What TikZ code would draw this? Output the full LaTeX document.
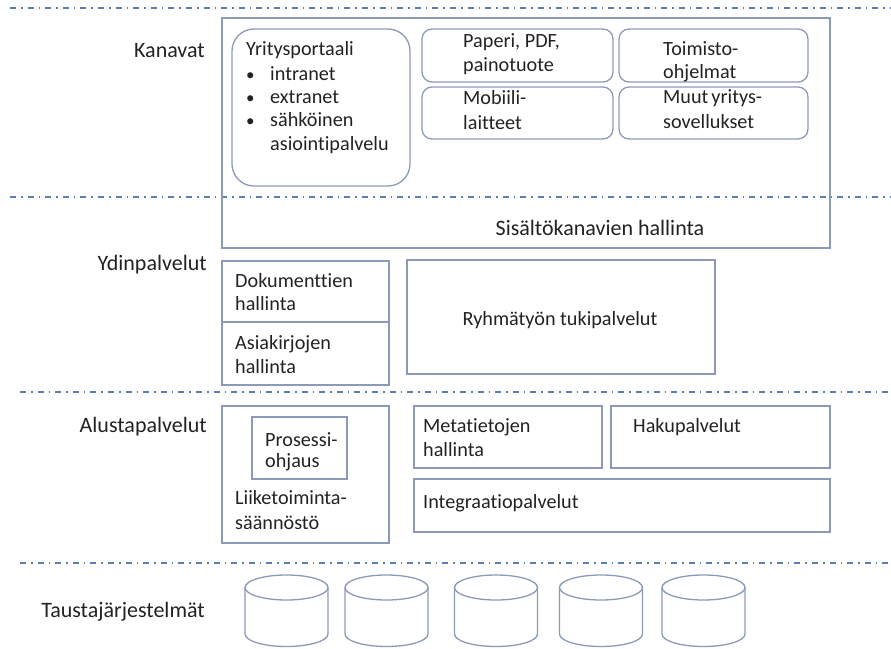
\documentclass[tikz,border=0pt]{standalone}
\usepackage{fontspec}
\setmainfont{Carlito}[Ligatures=NoCommon]
\definecolor{boxline}{RGB}{140,154,184}
\definecolor{layerline}{RGB}{92,126,180}
\definecolor{inktext}{RGB}{34,34,34}
\begin{document}
\begin{tikzpicture}[x=1pt,y=-1pt,
  font=\fontsize{20.2}{24}\selectfont,
  box/.style={draw=boxline,line width=1.3pt},
  roundbox/.style={box,rounded corners=10pt},
  portalbox/.style={box,rounded corners=22pt},
  layer/.style={draw=layerline,line width=1.6pt,dash pattern=on 6pt off 5pt on 1.6pt off 5pt},
  txt/.style={inner sep=0pt,text=inktext,anchor=base west},
  lbl/.style={inner sep=0pt,text=inktext,anchor=base east,font=\fontsize{22}{24}\selectfont},
  ctr/.style={inner sep=0pt,text=inktext,anchor=base},
  dot/.style={inner sep=0pt,text=inktext,anchor=base west,font=\fontsize{17}{24}\selectfont},
  db/.style={draw=boxline,line width=1.3pt}]
\useasboundingbox (0,0) rectangle (891,648);

% layer separators
\draw[layer] (10,8) -- (891,8);
\draw[layer] (10,197) -- (891,197);
\draw[layer] (20,392) -- (891,392);
\draw[layer] (20,563) -- (891,563);

% layer titles
\node[lbl] (kanavat) at (205,57) {Kanavat};
\node[lbl] (ydin) at (207,270) {Ydinpalvelut};
\node[lbl] (alusta) at (207,432) {Alustapalvelut};
\node[lbl] (tausta) at (205,617) {Taustajärjestelmät};

% channels
\draw[box] (222,18) rectangle (830,248);
\draw[portalbox] (232,29) rectangle (410,186);
\node[txt] (portal) at (246,55) {Yritysportaali};
\node[dot] (b1) at (246,80) {•};
\node[txt] (i1) at (270,80) {intranet};
\node[dot] (b2) at (246,103) {•};
\node[txt] (i2) at (270,103) {extranet};
\node[dot] (b3) at (246,126) {•};
\node[txt] (i3) at (270,126) {sähköinen};
\node[txt] (i3b) at (270,150) {asiointipalvelu};

\draw[roundbox] (422,29) rectangle (613,82);
\node[txt] (pap1) at (463,47) {Paperi, PDF,};
\node[txt] (pap2) at (463,71) {painotuote};
\draw[roundbox] (619,29) rectangle (808,82);
\node[txt] (toi1) at (663,55) {Toimisto-};
\node[txt] (toi2) at (663,78) {ohjelmat};
\draw[roundbox] (422,87) rectangle (613,139);
\node[txt] (mob1) at (463,104) {Mobiili-};
\node[txt] (mob2) at (463,129) {laitteet};
\draw[roundbox] (619,87) rectangle (808,139);
\node[txt] (muu1) at (663,103) {Muut\hspace{0.15em}yritys-};
\node[txt] (muu2) at (663,128) {sovellukset};
\node[ctr,font=\fontsize{22}{24}\selectfont] (sisalto) at (600,235) {Sisältökanavien hallinta};

% core services
\draw[box] (222,261) rectangle (389,385);
\draw[box] (222,322) -- (389,322);
\node[txt] (dok1) at (235,287) {Dokumenttien};
\node[txt] (dok2) at (235,310) {hallinta};
\node[txt] (asi1) at (235,349) {Asiakirjojen};
\node[txt] (asi2) at (235,373) {hallinta};
\draw[box] (407,260) rectangle (715,374);
\node[ctr] (ryhma) at (560,325) {Ryhmätyön tukipalvelut};

% platform services
\draw[box] (222,406) rectangle (389,543);
\draw[box] (252,417) rectangle (347,479);
\node[txt] (pro1) at (265,446) {Prosessi-};
\node[txt] (pro2) at (265,467) {ohjaus};
\node[txt] (lii1) at (235,504) {Liiketoiminta-};
\node[txt] (lii2) at (235,529) {säännöstö};
\draw[box] (414,406) rectangle (602,468);
\node[txt] (met1) at (423,432) {Metatietojen};
\node[txt] (met2) at (423,456) {hallinta};
\draw[box] (611,406) rectangle (830,468);
\node[txt] (haku) at (633,432) {Hakupalvelut};
\draw[box] (414,479) rectangle (830,532);
\node[txt] (integ) at (423,508) {Integraatiopalvelut};

% back-end systems
\foreach \cx in {286.5,386.5,496,601,703.5}{
  \draw[db] (\cx,587.5) ellipse [x radius=41.5,y radius=12.5];
  \draw[db] (\cx-41.5,587.5) -- (\cx-41.5,634)
    arc[start angle=180,end angle=0,x radius=41.5,y radius=12.5]
    -- (\cx+41.5,587.5);
}
\end{tikzpicture}
\end{document}
